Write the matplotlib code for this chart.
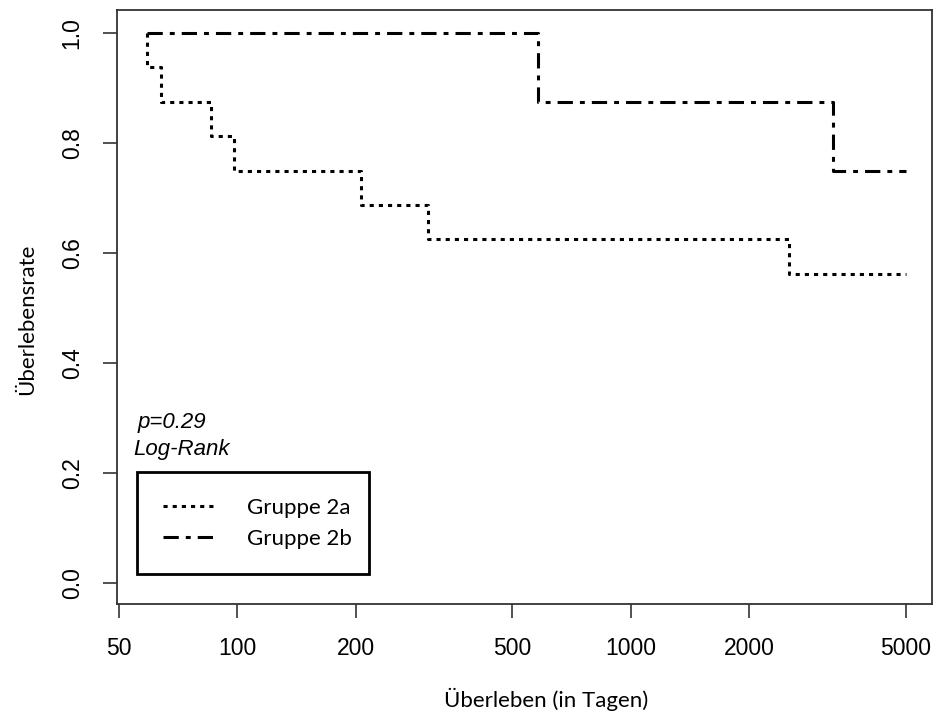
import matplotlib
matplotlib.use("Agg")
import matplotlib.pyplot as plt
from matplotlib.ticker import FixedLocator, NullLocator

# Kaplan-Meier steps (days, survival after each event)
start_day = 59
end_day = 5000
events_2a = [59, 64, 86, 98, 206, 306, 2517]
surv_2a = [0.9375, 0.875, 0.8125, 0.75, 0.6875, 0.625, 0.5625]
events_2b = [581, 3258]
surv_2b = [0.875, 0.75]

x_ticks = [50, 100, 200, 500, 1000, 2000, 5000]
y_ticks = [0.0, 0.2, 0.4, 0.6, 0.8, 1.0]
labels = ["Gruppe 2a", "Gruppe 2b"]

tick_font = "Liberation Sans"
label_font = "Lato"

fig = plt.figure(figsize=(9.37, 7.16), dpi=100)
ax = fig.add_axes([117 / 937, 1 - 604 / 716, 815 / 937, 594 / 716])


def km_xy(events, surv):
    xs = [start_day] + list(events) + [end_day]
    ys = [1.0] + list(surv) + [surv[-1]]
    return xs, ys


x, y = km_xy(events_2a, surv_2a)
ax.step(x, y, where="post", color="black", lw=2.2,
        linestyle=(0, (1.35, 1.65)), label=labels[0])
x, y = km_xy(events_2b, surv_2b)
ax.step(x, y, where="post", color="black", lw=2.2,
        linestyle=(0, (5.0, 2.3, 1.6, 2.3)), label=labels[1])

ax.set_xscale("log")
ax.set_xlim(49.5, 5820)
ax.set_ylim(-0.038, 1.042)
ax.xaxis.set_major_locator(FixedLocator(x_ticks))
ax.xaxis.set_minor_locator(NullLocator())
ax.set_xticklabels([str(v) for v in x_ticks], fontfamily=tick_font, fontsize=16.5)
ax.set_yticks(y_ticks)
ax.set_yticklabels([f"{v:.1f}" for v in y_ticks], fontfamily=tick_font,
                   fontsize=16.5, rotation=90, va="center")
ax.tick_params(axis="both", direction="out", length=10, width=1.2,
               color="#333333", pad=14)

for sp in ax.spines.values():
    sp.set_linewidth(1.3)
    sp.set_color("#333333")

ax.set_xlabel("Überleben (in Tagen)", fontfamily=label_font, fontsize=16)
ax.xaxis.set_label_coords(0.526, -0.141)
ax.set_ylabel("Überlebensrate", fontfamily=label_font, fontsize=16)
ax.yaxis.set_label_coords(-0.098, 0.48)

ax.text(138 / 937, 1 - 428 / 716, "p=0.29", transform=fig.transFigure,
        fontfamily=tick_font, fontstyle="italic", fontsize=16)
ax.text(133 / 937, 1 - 455 / 716, "Log-Rank", transform=fig.transFigure,
        fontfamily=tick_font, fontstyle="italic", fontsize=16)

leg = ax.legend(loc="upper left", bbox_to_anchor=(0.0245, 0.0522, 0.2847, 0.17),
                mode="expand", borderaxespad=0, fancybox=False, framealpha=1,
                edgecolor="black", prop={"family": label_font, "size": 16},
                handlelength=2.3, handletextpad=1.5, borderpad=1.15,
                labelspacing=0.5)
leg.get_frame().set_linewidth(2.0)

fig.savefig("out.png", dpi=100)
